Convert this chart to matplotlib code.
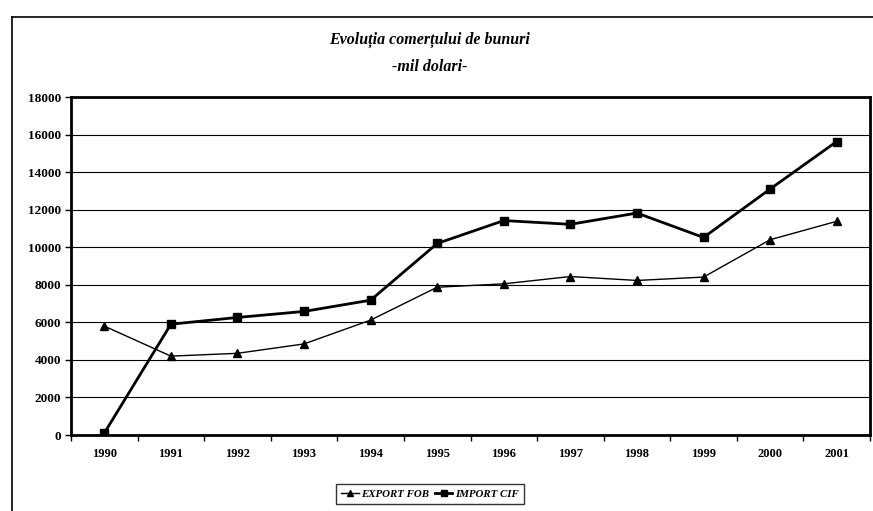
import matplotlib
matplotlib.use('Agg')
import matplotlib.pyplot as plt
from matplotlib.lines import Line2D

years = ['1990', '1991', '1992', '1993', '1994', '1995',
         '1996', '1997', '1998', '1999', '2000', '2001']
export_fob = [5800, 4200, 4350, 4850, 6120, 7870, 8050, 8440, 8230, 8410, 10400, 11380]
import_cif = [100, 5900, 6260, 6580, 7180, 10200, 11420, 11220, 11820, 10520, 13100, 15630]
y_ticks = list(range(0, 18001, 2000))

plt.rcParams['font.family'] = ['Liberation Serif', 'DejaVu Serif']

fig = plt.figure(figsize=(8.73, 5.11), dpi=100)
ax = fig.add_axes([71 / 873, 76 / 511, 799 / 873, 338 / 511])

x = list(range(len(years)))
ax.plot(x, export_fob, color='black', lw=1.0, marker='^', ms=5.5,
        label='EXPORT FOB')
ax.plot(x, import_cif, color='black', lw=2.0, marker='s', ms=5.5,
        label='IMPORT CIF')

ax.set_xlim(-0.5, len(years) - 0.5)
ax.set_ylim(0, 18000)
ax.set_yticks(y_ticks)
ax.set_yticklabels([str(v) for v in y_ticks], fontsize=9.5, fontweight='bold')
ax.yaxis.grid(True, color='black', lw=0.8)
ax.set_axisbelow(True)

# category ticks sit between the years, labels sit under the years
ax.set_xticks([i - 0.5 for i in range(len(years) + 1)])
ax.set_xticklabels([])
ax.set_xticks(x, minor=True)
ax.set_xticklabels(years, minor=True, fontsize=9, fontweight='bold')
ax.tick_params(axis='x', which='minor', length=0, pad=9)
ax.tick_params(axis='x', which='major', length=4, width=1, direction='out')
ax.tick_params(axis='y', length=4, width=1, direction='out', pad=3)

for side in ax.spines.values():
    side.set_linewidth(2)
    side.set_color('black')

fig.text(430 / 873, 1 - 40 / 511, 'Evoluția comerțului de bunuri',
         ha='center', va='center', fontsize=11.5, fontweight='bold', style='italic')
fig.text(430 / 873, 1 - 67 / 511, '-mil dolari-',
         ha='center', va='center', fontsize=11.5, fontweight='bold', style='italic')

leg = fig.legend(loc='center', bbox_to_anchor=(430 / 873, 1 - 494 / 511), ncol=2,
                 frameon=True, fancybox=False, handlelength=1.6, handletextpad=0.25,
                 columnspacing=0.5, borderpad=0.5, markerscale=0.85,
                 prop={'weight': 'bold', 'style': 'italic', 'size': 7.8})
leg.get_frame().set_edgecolor('black')
leg.get_frame().set_linewidth(1)

# outer chart frame, cut off at the right and bottom
fig.add_artist(Line2D([12 / 873, 12 / 873], [0, 1 - 17 / 511], color='black', lw=1.2))
fig.add_artist(Line2D([12 / 873, 1], [1 - 17 / 511, 1 - 17 / 511], color='black', lw=1.2))

fig.savefig('out.png', dpi=100)
